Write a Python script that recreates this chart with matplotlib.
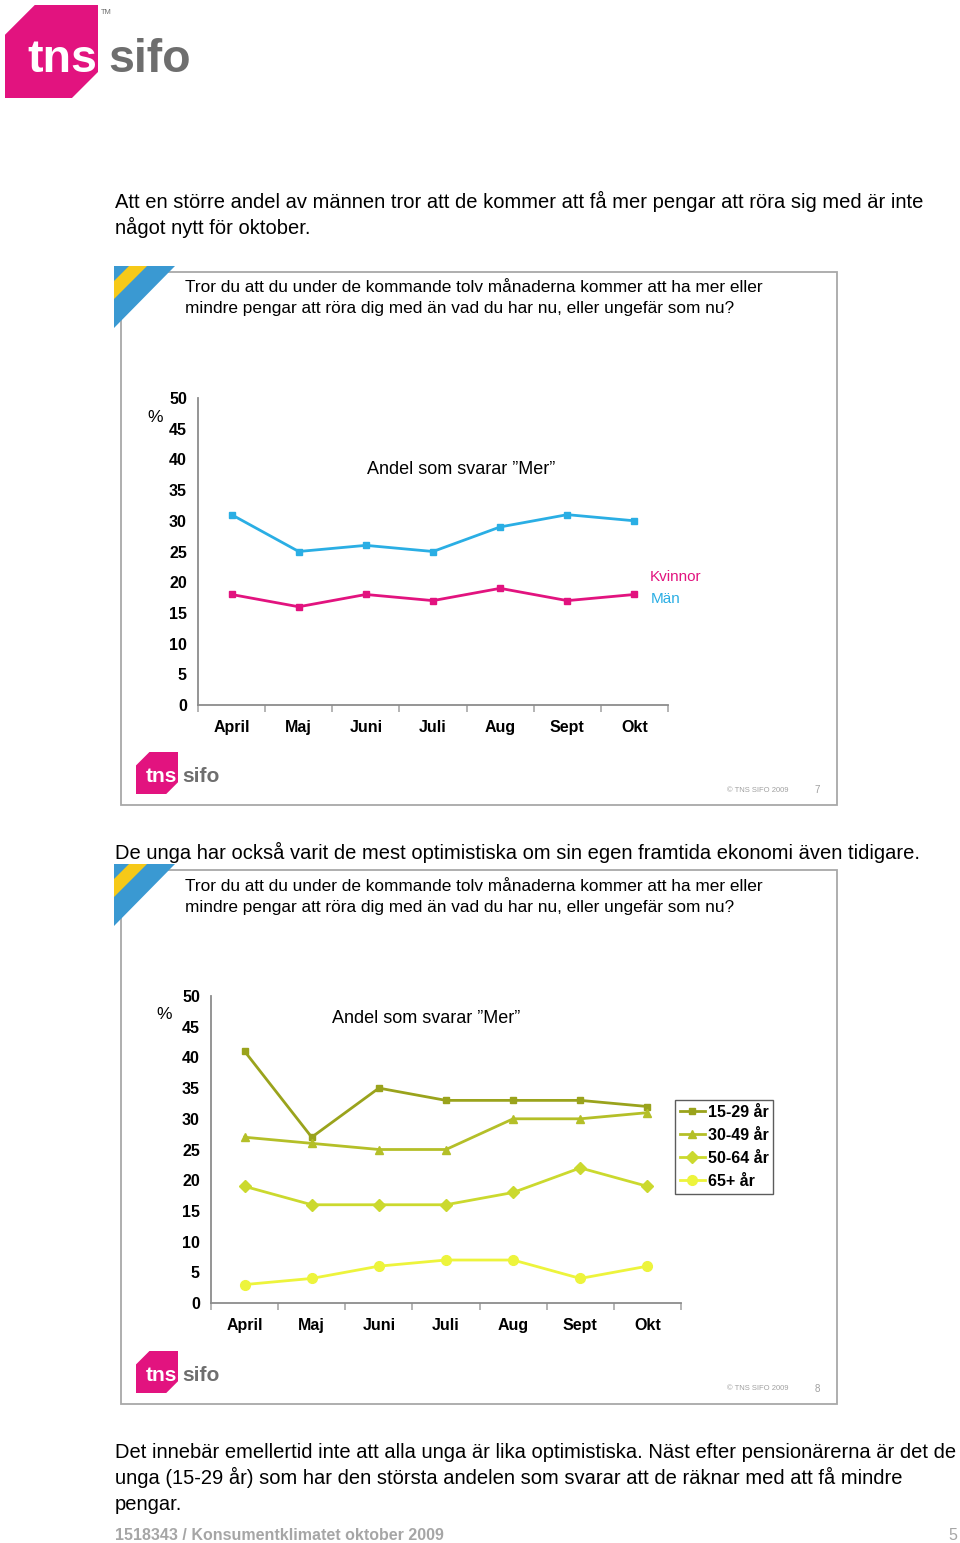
import matplotlib
matplotlib.use("Agg")
import matplotlib.pyplot as plt
from matplotlib.patches import Polygon, Rectangle

plt.rcParams['font.family'] = ['Liberation Sans', 'DejaVu Sans']

W, H = 960, 1543

# data
months = ["April", "Maj", "Juni", "Juli", "Aug", "Sept", "Okt"]
man = [31, 25, 26, 25, 29, 31, 30]
kvinnor = [18, 16, 18, 17, 19, 17, 18]

age_groups = ["15-29 år", "30-49 år", "50-64 år", "65+ år"]
age_15_29 = [41, 27, 35, 33, 33, 33, 32]
age_30_49 = [27, 26, 25, 25, 30, 30, 31]
age_50_64 = [19, 16, 16, 16, 18, 22, 19]
age_65 = [3, 4, 6, 7, 7, 4, 6]

y_ticks = [0, 5, 10, 15, 20, 25, 30, 35, 40, 45, 50]

heading1 = ["Att en större andel av männen tror att de kommer att få mer pengar att röra sig med är inte",
            "något nytt för oktober."]
heading2 = ["De unga har också varit de mest optimistiska om sin egen framtida ekonomi även tidigare."]
question = ["Tror du att du under de kommande tolv månaderna kommer att ha mer eller",
            "mindre pengar att röra dig med än vad du har nu, eller ungefär som nu?"]
bottom_text = ["Det innebär emellertid inte att alla unga är lika optimistiska. Näst efter pensionärerna är det de",
               "unga (15-29 år) som har den största andelen som svarar att de räknar med att få mindre",
               "pengar."]

PINK = "#E2137F"
BLUE = "#2AAEE4"
GREY_TXT = "#6E6E6E"
BORDER = "#A8A8A8"
BODY_FS = 14.5
Q_FS = 12.4

fig = plt.figure(figsize=(W / 100, H / 100), dpi=100)


def fx(px):
    return px / W


def fy(py):
    return 1 - py / H


def txt(x, y, s, **kw):
    fig.text(fx(x), fy(y), s, **kw)


def logo(x0, y0, size, tm=True):
    # pink chamfered square with "tns" and grey "sifo"
    s = size
    c = 0.32 * s
    pts = [(x0 + c, y0), (x0 + s, y0), (x0 + s, y0 + s * 0.72), (x0 + s * 0.72, y0 + s),
           (x0, y0 + s), (x0, y0 + c)]
    fig.patches.append(Polygon([(fx(a), fy(b)) for a, b in pts], closed=True,
                               transform=fig.transFigure, facecolor=PINK, edgecolor="none",
                               joinstyle="round"))
    fs = s * 0.36
    txt(x0 + s * 0.24, y0 + s * 0.72, "tns", color="white", fontsize=fs, fontweight="bold",
        va="baseline", ha="left")
    txt(x0 + s * 1.11, y0 + s * 0.72, "sifo", color=GREY_TXT, fontsize=fs, fontweight="bold",
        va="baseline", ha="left")
    if tm:
        txt(x0 + s * 1.03, y0 + s * 0.04, "TM", color=GREY_TXT, fontsize=fs * 0.16, va="top")


def slide_frame(x0, y0, x1, y1):
    fig.patches.append(Rectangle((fx(x0), fy(y1)), fx(x1) - fx(x0), fy(y0) - fy(y1),
                                 transform=fig.transFigure, facecolor="none",
                                 edgecolor=BORDER, linewidth=1.3))
    # blue / yellow corner decoration
    cx, cy = x0 - 7, y0 - 6
    tri = [(cx, cy), (cx + 61, cy), (cx, cy + 62)]
    fig.patches.append(Polygon([(fx(a), fy(b)) for a, b in tri], closed=True,
                               transform=fig.transFigure, facecolor="#3A99D2", edgecolor="none"))
    band = [(cx + 15, cy), (cx + 33, cy), (cx, cy + 33), (cx, cy + 15)]
    fig.patches.append(Polygon([(fx(a), fy(b)) for a, b in band], closed=True,
                               transform=fig.transFigure, facecolor="#F6C918", edgecolor="none"))


def style_axes(ax):
    ax.set_xlim(0, len(months))
    ax.set_ylim(0, 50)
    ax.set_yticks(y_ticks)
    ax.set_xticks(range(len(months) + 1))
    ax.set_xticklabels([])
    ax.set_xticks([i + 0.5 for i in range(len(months))], minor=True)
    ax.set_xticklabels(months, minor=True, fontsize=11.5, fontweight="bold")
    ax.tick_params(axis="x", which="major", length=5, width=1.2, color=BORDER, direction="out")
    ax.tick_params(axis="x", which="minor", length=0, pad=11)
    ax.tick_params(axis="y", length=0, pad=8, labelsize=11.5)
    for lab in ax.get_yticklabels():
        lab.set_fontweight("bold")
    for sp in ["top", "right"]:
        ax.spines[sp].set_visible(False)
    for sp in ["left", "bottom"]:
        ax.spines[sp].set_color("#8C8C8C")
        ax.spines[sp].set_linewidth(1.3)
    ax.patch.set_alpha(0)


# top logo
logo(5, 5, 93)

for i, line in enumerate(heading1):
    txt(115, 208 + 26 * i, line, fontsize=BODY_FS, va="baseline")

# slide 1
slide_frame(121, 272, 837, 805)
for i, line in enumerate(question):
    txt(185, 292 + 21 * i, line, fontsize=Q_FS, va="baseline")

ax1 = fig.add_axes([fx(198), fy(705), fx(668) - fx(198), (705 - 398) / H])
xs = [i + 0.5 for i in range(len(months))]
ax1.plot(xs, man, color=BLUE, lw=2, marker="s", ms=5, clip_on=False)
ax1.plot(xs, kvinnor, color=PINK, lw=2, marker="s", ms=5, clip_on=False)
style_axes(ax1)
txt(155, 417, "%", fontsize=12.5, ha="center", va="center")
txt(461, 469, "Andel som svarar \u201dMer\u201d", fontsize=13, ha="center", va="center")
txt(650, 577, "Kvinnor", fontsize=11, color=PINK, ha="left", va="center")
txt(651, 599, "Män", fontsize=11, color=BLUE, ha="left", va="center")

logo(136, 752, 42, tm=False)
txt(727, 790, "\u00a9 TNS SIFO 2009", fontsize=5.5, color="#A0A0A0", va="center")
txt(817, 790, "7", fontsize=7, color="#A0A0A0", ha="center", va="center")

# slide 2
txt(115, 859, heading2[0], fontsize=BODY_FS, va="baseline")
slide_frame(121, 870, 837, 1404)
for i, line in enumerate(question):
    txt(185, 891 + 21 * i, line, fontsize=Q_FS, va="baseline")

ax2 = fig.add_axes([fx(211), fy(1303), fx(681) - fx(211), (1303 - 996) / H])
age_series = [age_15_29, age_30_49, age_50_64, age_65]
age_colors = ["#9AA31C", "#B4BF28", "#CBD92E", "#EDF43C"]
age_markers = ["s", "^", "D", "o"]
age_ms = [5, 5.5, 6, 7]
handles = []
for vals, col, mk, ms, lab in zip(age_series, age_colors, age_markers, age_ms, age_groups):
    ln, = ax2.plot(xs, vals, color=col, lw=2, marker=mk, ms=ms, label=lab, clip_on=False)
    handles.append(ln)
style_axes(ax2)
leg = ax2.legend(handles=handles, loc="upper left",
                 bbox_to_anchor=(fx(675), fy(1100)), bbox_transform=fig.transFigure,
                 frameon=True, fancybox=False, edgecolor="#333333",
                 prop={"weight": "bold", "size": 11.5}, handlelength=1.55, handletextpad=0.2,
                 labelspacing=0.5, borderpad=0.3, borderaxespad=0)
leg.get_frame().set_linewidth(1.0)
txt(164, 1015, "%", fontsize=12.5, ha="center", va="center")
txt(426, 1018, "Andel som svarar \u201dMer\u201d", fontsize=13, ha="center", va="center")

logo(136, 1351, 42, tm=False)
txt(727, 1389, "\u00a9 TNS SIFO 2009", fontsize=5.5, color="#A0A0A0", va="center")
txt(817, 1389, "8", fontsize=7, color="#A0A0A0", ha="center", va="center")

for i, line in enumerate(bottom_text):
    txt(115, 1458 + 26 * i, line, fontsize=BODY_FS, va="baseline")

txt(115, 1540, "1518343 / Konsumentklimatet oktober 2009", fontsize=11.5, color="#A6A6A6",
    fontweight="bold", va="baseline")
txt(957, 1540, "5", fontsize=11.5, color="#A6A6A6", ha="right", va="baseline")

fig.savefig("out.png", dpi=100, facecolor="white")
